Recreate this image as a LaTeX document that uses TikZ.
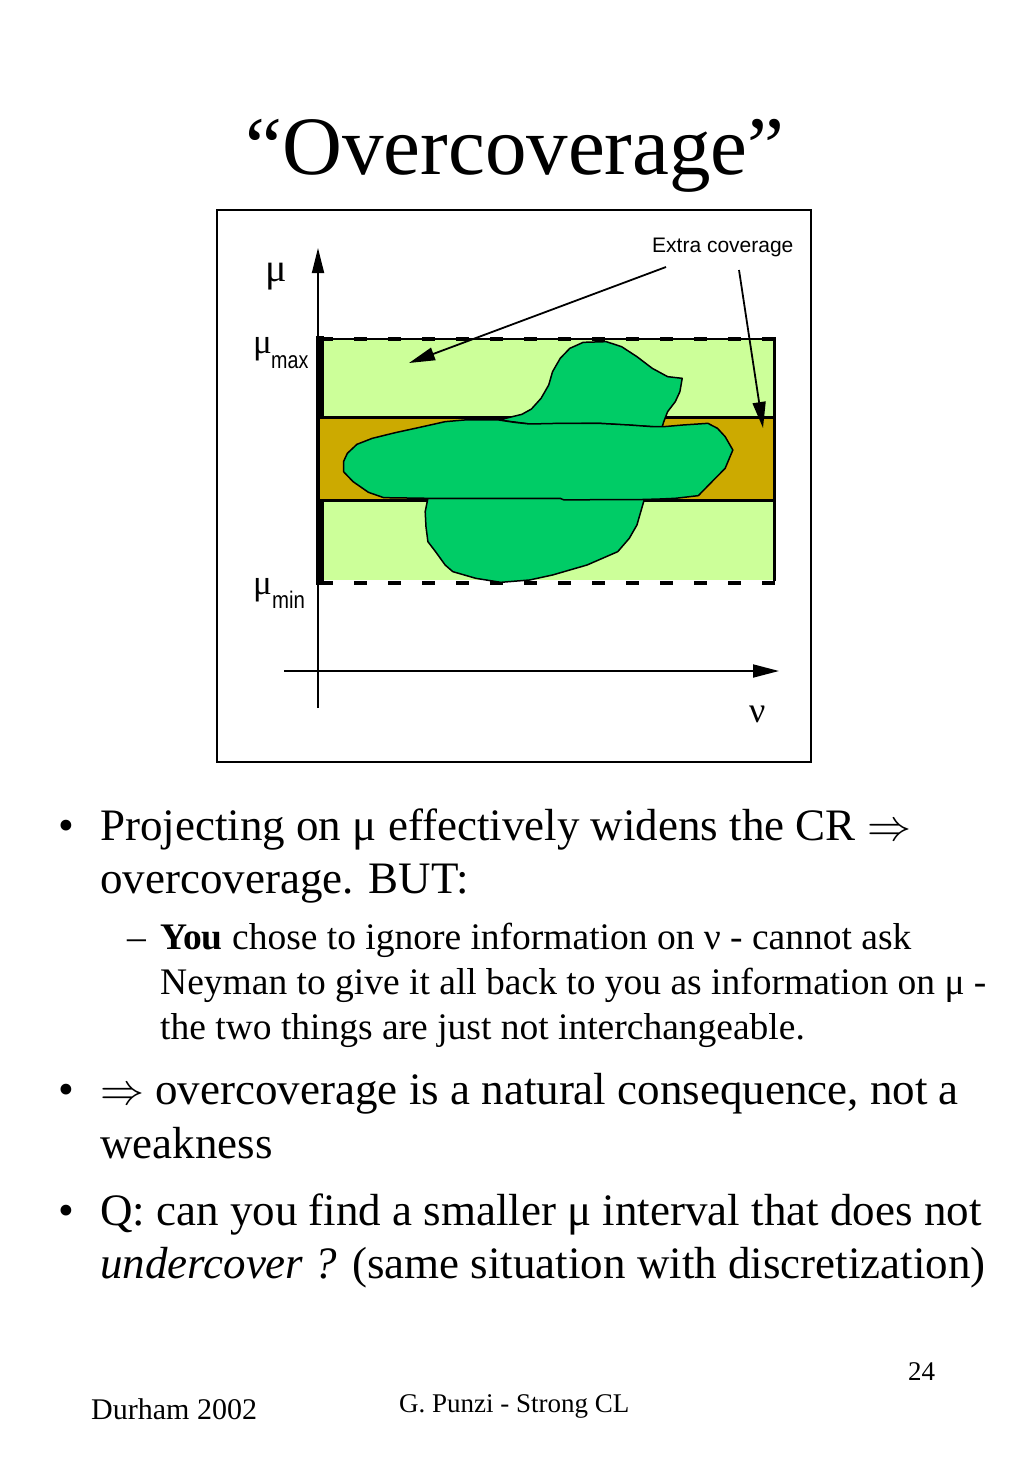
\documentclass[tikz,border=0pt]{standalone}
\usepackage{fontspec}
\setmainfont{Liberation Serif}
\setsansfont{Liberation Sans}
\usetikzlibrary{arrows.meta}
\definecolor{lgreen}{HTML}{CCFF99}
\definecolor{gold}{HTML}{CCAA00}
\definecolor{blob}{HTML}{00CC66}
\newcommand{\dbl}{{\fontsize{10}{12}\selectfont\scalebox{4.4}{$\Rightarrow$}}}
\begin{document}
\begin{tikzpicture}[x=1pt,y=-1pt,
  txt/.style={inner sep=0pt,anchor=base west},
  tip/.style={-{Triangle[length=26pt,width=13pt]}},
  axisline/.style={line width=1.8pt},
  blobshape/.style={fill=blob,draw=black,line width=1.5pt,line join=round},
  bigfont/.style={font=\fontsize{45}{54}\selectfont},
  subfont/.style={font=\fontsize{37.5}{45}\selectfont}]
\useasboundingbox (0,0) rectangle (1024,1479);
\fill[white] (0,0) rectangle (1024,1479);

% title
\node[inner sep=0pt,anchor=base] (title) at (515,175) {\fontsize{83}{90}\selectfont “Overcoverage”};

% frame
\draw[line width=2.5pt] (217,210) rectangle (811,762);

% axes
\coordinate (mubot) at (318,708);
\coordinate (mutop) at (318,248);
\coordinate (nuleft) at (284,671);
\coordinate (nuright) at (779,671);
\draw[axisline,-{Triangle[length=25pt,width=12pt]}] (mubot) -- (mutop);
\draw[axisline,-{Triangle[length=26pt,width=13pt]}] (nuleft) -- (nuright);

% bands
\fill[lgreen] (320,338) rectangle (775,580);
\fill[gold] (320,417) rectangle (775,500);
\draw[line width=3pt] (316,417) -- (776,417);
\draw[line width=3pt] (316,500) -- (776,500);
\draw[line width=3pt] (774.5,337) -- (774.5,581);
\draw[line width=2.5pt] (316,339) -- (776,339);
\draw[line width=4pt,dash pattern=on 13pt off 21pt] (320,339) -- (776,339);
\draw[line width=4pt,dash pattern=on 13pt off 21pt] (320,583) -- (776,583);
\draw[line width=8pt] (320,336) -- (320,418);
\draw[line width=8pt] (320,499) -- (320,585);
\draw[line width=4pt] (318,417) -- (318,500);

% blobs
\begin{scope}[shift={(215,205)},xscale=0.38358,yscale=0.33333]
\draw[blobshape] (555,880) -- (548,920) -- (550,965) -- (555,1010) -- (575,1040) -- (600,1080) -- (620,1100) -- (680,1120) -- (745,1132) -- (820,1125) -- (880,1110) -- (970,1080) -- (1010,1060) -- (1050,1040) -- (1080,1000) -- (1100,960) -- (1110,920) -- (1120,880) -- cycle;
\draw[blobshape] (740,645) -- (800,628) -- (825,612) -- (850,580) -- (870,540) -- (880,500) -- (900,460) -- (925,430) -- (960,412) -- (1020,410) -- (1060,425) -- (1100,455) -- (1140,490) -- (1180,515) -- (1218,520) -- (1212,560) -- (1200,590) -- (1180,620) -- (1170,650) -- (1165,668) -- (1140,665) -- (1000,655) -- (820,657) -- cycle;
\draw[blobshape] (335,770) -- (345,745) -- (370,718) -- (410,700) -- (470,683) -- (530,668) -- (600,650) -- (650,645) -- (740,645) -- (780,652) -- (820,657) -- (900,655) -- (1000,655) -- (1080,660) -- (1140,665) -- (1170,665) -- (1220,660) -- (1285,655) -- (1310,670) -- (1330,695) -- (1350,735) -- (1330,790) -- (1300,825) -- (1260,872) -- (1200,880) -- (1160,882) -- (1100,884) -- (1000,884) -- (910,885) -- (900,880) -- (700,880) -- (560,880) -- (440,878) -- (400,862) -- (360,830) -- (335,800) -- cycle;
\end{scope}

% labels in diagram
\node[txt] (extra) at (652,252) {\sffamily\fontsize{21}{24}\selectfont Extra coverage};
\coordinate (s1) at (666,267);
\coordinate (t1) at (409,363);
\coordinate (s2) at (739,270);
\coordinate (t2) at (763,428);
\draw[line width=1.8pt,tip] (s1) -- (t1);
\draw[line width=1.8pt,tip] (s2) -- (t2);

\node[txt] (mu) at (265,281) {\fontsize{40}{44}\selectfont μ};
\node[txt] (mumax) at (253,353) {\fontsize{35}{40}\selectfont μ};
\node[txt] (max) at (271,368) {\sffamily\fontsize{24}{28}\selectfont\scalebox{0.82}[1]{max}};
\node[txt] (mumin) at (253,594) {\fontsize{35}{40}\selectfont μ};
\node[txt] (min) at (272,608) {\sffamily\fontsize{24}{28}\selectfont\scalebox{0.85}[1]{min}};
\node[txt] (nu) at (749,722) {\fontsize{36}{40}\selectfont ν};

% body text
\node[txt,bigfont] (b1) at (58,840) {•};
\node[txt,bigfont] (l1) at (100,840) {Projecting on μ effectively widens the CR \dbl};
\node[txt,bigfont] (l2) at (100,893) {overcoverage. BUT:};
\node[txt,subfont] (d1) at (127,949) {–};
\node[txt,subfont] (s1l) at (160,949) {\textbf{You} chose to ignore information on ν - cannot ask};
\node[txt,subfont] (s2l) at (160,994) {Neyman to give it all back to you as information on μ -};
\node[txt,subfont] (s3l) at (160,1039) {the two things are just not interchangeable.};
\node[txt,bigfont] (b2) at (58,1104) {•};
\node[txt,bigfont] (l3) at (100,1104) {\dbl{} overcoverage is a natural consequence, not a};
\node[txt,bigfont] (l4) at (100,1158) {weakness};
\node[txt,bigfont] (b3) at (58,1225) {•};
\node[txt,bigfont] (l5) at (100,1225) {Q: can you find a smaller μ interval that does not};
\node[txt,bigfont] (l6) at (100,1278) {\textit{undercover ?} (same situation with discretization)};

% footer
\node[txt] (page) at (908,1380) {\fontsize{27}{30}\selectfont 24};
\node[txt] (durham) at (91,1419) {\fontsize{30}{34}\selectfont Durham 2002};
\node[txt] (author) at (399,1412) {\fontsize{27}{30}\selectfont G. Punzi - Strong CL};
\end{tikzpicture}
\end{document}
